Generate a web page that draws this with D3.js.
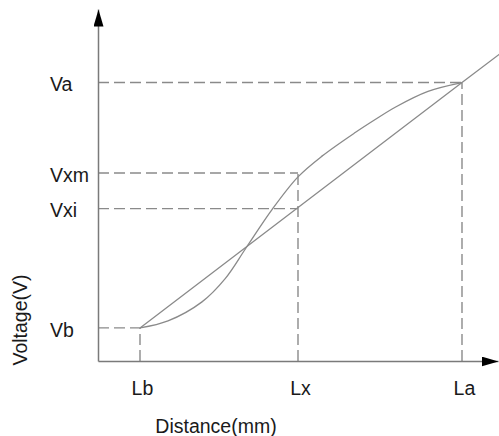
<!DOCTYPE html>
<html>
<head>
<meta charset="utf-8">
<script src="https://cdn.jsdelivr.net/npm/d3@7"></script>
<style>
  body { margin: 0; background: #fff; }
  text { font-family: "Liberation Sans", Arial, sans-serif; fill: #1a1a1a; }
</style>
</head>
<body>
<div id="chart"></div>
<script>
// Axis positions (abstract distance / voltage units)
var xLabels = ["Lb", "Lx", "La"];
var xValues = [1.05, 5.0, 9.1];

var yLabels = ["Vb", "Vxi", "Vxm", "Va"];
var yValues = [0.94, 4.33, 5.34, 7.91];

// S-shaped measured curve
var curveX = [1.05, 1.75, 2.6, 3.18, 3.7, 4.35, 5.0, 5.6, 6.43, 6.93, 7.43, 8.25, 9.1];
var curveY = [0.94, 1.14, 1.68, 2.34, 3.21, 4.30, 5.23, 5.82, 6.49, 6.86, 7.21, 7.66, 7.91];

// straight reference line Lb/Vb -> La/Va, running off the edge
var lineX = [1.05, 9.1, 10.05];
var lineY = [0.94, 7.91, 8.73];

// dashed guides: level -> where it stops
var hGuideTo = ["Lb", "Lx", "Lx", "La"];   // for each y label
var vGuideTo = ["Vb", "Vxm", "Va"];        // for each x label

var svgWidth = 499;
var svgHeight = 436;

var svg = d3.select("#chart")
  .append("svg")
  .attr("width", svgWidth)
  .attr("height", svgHeight);

var xScale = d3.scaleLinear().domain([0, 10]).range([98, 498]);
var yScale = d3.scaleLinear().domain([0, 10]).range([361, 9]);

var xOf = {}, yOf = {};
xLabels.forEach(function(l, i) { xOf[l] = xValues[i]; });
yLabels.forEach(function(l, i) { yOf[l] = yValues[i]; });

// arrow heads
var defs = svg.append("defs");
defs.append("marker")
  .attr("id", "arrow")
  .attr("markerUnits", "userSpaceOnUse")
  .attr("viewBox", "0 0 17 10")
  .attr("markerWidth", 17)
  .attr("markerHeight", 10)
  .attr("refX", 17)
  .attr("refY", 5)
  .attr("orient", "auto")
  .append("path")
  .attr("d", "M0,0L17,5L0,10Z")
  .attr("fill", "#000");

// dashed guides
var guides = svg.append("g")
  .attr("fill", "none")
  .attr("stroke", "#8a8a8a")
  .attr("stroke-width", 1.4)
  .attr("stroke-dasharray", "11,5");

guides.selectAll("line.h")
  .data(yLabels)
  .enter()
  .append("line")
  .attr("class", "h")
  .attr("x1", xScale(0))
  .attr("x2", (d, i) => xScale(xOf[hGuideTo[i]]))
  .attr("y1", d => yScale(yOf[d]))
  .attr("y2", d => yScale(yOf[d]));

guides.selectAll("line.v")
  .data(xLabels)
  .enter()
  .append("line")
  .attr("class", "v")
  .attr("x1", d => xScale(xOf[d]))
  .attr("x2", d => xScale(xOf[d]))
  .attr("y1", yScale(0))
  .attr("y2", (d, i) => yScale(yOf[vGuideTo[i]]));

// curve and straight line
svg.append("path")
  .datum(curveX.map((x, i) => [x, curveY[i]]))
  .attr("fill", "none")
  .attr("stroke", "#8a8a8a")
  .attr("stroke-width", 1.3)
  .attr("d", d3.line()
    .x(d => xScale(d[0]))
    .y(d => yScale(d[1]))
    .curve(d3.curveCatmullRom.alpha(0.5)));

svg.append("path")
  .datum(lineX.map((x, i) => [x, lineY[i]]))
  .attr("fill", "none")
  .attr("stroke", "#8a8a8a")
  .attr("stroke-width", 1.3)
  .attr("d", d3.line().x(d => xScale(d[0])).y(d => yScale(d[1])));

// axes
var bottomAxis = d3.axisBottom(xScale)
  .tickValues(xValues)
  .tickFormat((d, i) => xLabels[i])
  .tickSize(0)
  .tickPadding(20);

var leftAxis = d3.axisLeft(yScale)
  .tickValues(yValues)
  .tickFormat((d, i) => yLabels[i])
  .tickSize(0);

var xAxisG = svg.append("g")
  .attr("transform", `translate(0, ${yScale(0)})`)
  .call(bottomAxis);

var yAxisG = svg.append("g")
  .attr("transform", `translate(${xScale(0)}, 0)`)
  .call(leftAxis);

[xAxisG, yAxisG].forEach(function(g) {
  g.attr("font-family", null).attr("font-size", null);
  g.select(".domain")
    .attr("stroke", "#7a7a7a")
    .attr("stroke-width", 1.5)
    .attr("marker-end", "url(#arrow)");
  g.selectAll("text")
    .style("font-size", "19.5px");
});

xAxisG.selectAll("text").attr("dx", "0.1em");

yAxisG.selectAll("text")
  .attr("text-anchor", "start")
  .attr("x", -48)
  .attr("dy", "0.42em");

// axis titles
svg.append("text")
  .attr("transform", `translate(27, 320) rotate(-90)`)
  .attr("text-anchor", "middle")
  .style("font-size", "19.5px")
  .text("Voltage(V)");

svg.append("text")
  .attr("x", 216)
  .attr("y", 433)
  .attr("text-anchor", "middle")
  .style("font-size", "19.5px")
  .text("Distance(mm)");
</script>
</body>
</html>
